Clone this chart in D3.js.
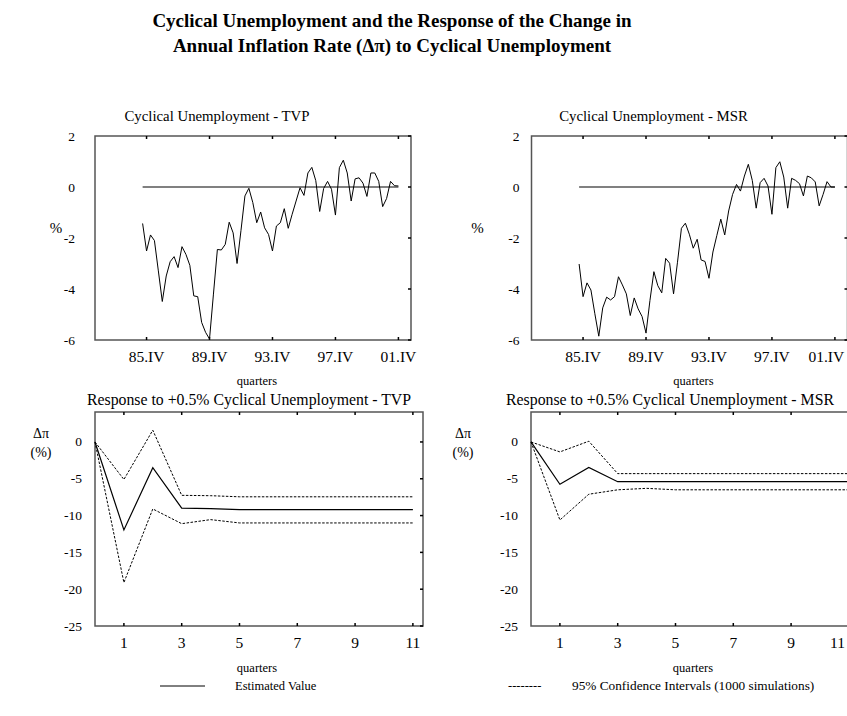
<!DOCTYPE html>
<html>
<head>
<meta charset="utf-8">
<script src="https://cdn.jsdelivr.net/npm/d3@7"></script>
<style>
  body { margin: 0; background: #fff; }
  text { font-family: "Liberation Serif", "Times New Roman", serif; fill: #000; }
</style>
</head>
<body>
<div id="container"></div>
<script>
// quarter index: 0 = 85.III ... 65 = 01.IV
var quarterTicks = [1, 17, 33, 49, 65];
var quarterLabels = ["85.IV", "89.IV", "93.IV", "97.IV", "01.IV"];

var cyclicalTVP = [
  -1.43, -2.51, -1.88, -2.10, -3.29, -4.49, -3.49, -2.93, -2.73, -3.16,
  -2.34, -2.64, -3.07, -4.27, -4.30, -5.31, -5.70, -5.96, -4.20, -2.45,
  -2.47, -2.25, -1.38, -1.80, -3.00, -1.70, -0.35, -0.05, -0.61, -1.40,
  -0.98, -1.60, -1.86, -2.51, -1.53, -1.40, -0.85, -1.62, -1.07, -0.55,
  -0.03, -0.33, 0.55, 0.77, 0.25, -0.96, -0.06, 0.22, -0.09, -1.10,
  0.76, 1.05, 0.55, -0.55, 0.32, 0.36, 0.15, -0.37, 0.55, 0.55,
  0.22, -0.77, -0.45, 0.22, 0.05, 0.04
];

var cyclicalMSR = [
  -3.02, -4.30, -3.76, -4.04, -4.97, -5.85, -4.74, -4.32, -4.43, -4.30,
  -3.52, -3.84, -4.19, -5.04, -4.35, -4.78, -5.08, -5.73, -4.45, -3.32,
  -3.87, -4.15, -2.80, -2.99, -4.19, -2.95, -1.62, -1.42, -1.85, -2.40,
  -2.05, -2.86, -2.92, -3.58, -2.55, -1.90, -1.26, -1.88, -0.94, -0.29,
  0.10, -0.16, 0.43, 0.89, 0.26, -0.83, 0.17, 0.34, 0.04, -1.07,
  0.76, 0.99, 0.39, -0.83, 0.34, 0.26, 0.13, -0.35, 0.43, 0.36,
  0.20, -0.74, -0.29, 0.21, 0.00, 0.00
];

var cyclicalTicks = [2, 0, -2, -4, -6];

// impulse responses, horizon 0..11 quarters
var horizon = [0, 1, 2, 3, 4, 5, 6, 7, 8, 9, 10, 11];
var respTVP      = [0, -11.95, -3.5, -9.0, -9.05, -9.2, -9.2, -9.2, -9.2, -9.2, -9.2, -9.2];
var respTVPUpper = [0, -5.1, 1.6, -7.25, -7.3, -7.45, -7.45, -7.45, -7.45, -7.45, -7.45, -7.45];
var respTVPLower = [0, -19.1, -9.1, -11.1, -10.55, -11.0, -11.0, -11.0, -11.0, -11.0, -11.0, -11.0];
var respMSR      = [0, -5.75, -3.45, -5.4, -5.4, -5.4, -5.4, -5.4, -5.4, -5.4, -5.4, -5.4];
var respMSRUpper = [0, -1.35, 0.1, -4.3, -4.3, -4.3, -4.3, -4.3, -4.3, -4.3, -4.3, -4.3];
var respMSRLower = [0, -10.6, -7.1, -6.5, -6.3, -6.5, -6.5, -6.5, -6.5, -6.5, -6.5, -6.5];
var horizonTicks = [1, 3, 5, 7, 9, 11];
var responseTicks = [0, -5, -10, -15, -20, -25];

var W = 847, H = 716;

var svg = d3.select("div#container")
  .append("svg")
  .attr("width", W)
  .attr("height", H);

// title
var title = svg.append("text")
  .attr("text-anchor", "middle")
  .attr("font-size", 19)
  .attr("font-weight", "bold");
title.append("tspan").attr("x", 392).attr("y", 27)
  .text("Cyclical Unemployment and the Response of the Change in");
title.append("tspan").attr("x", 392).attr("y", 52)
  .text("Annual  Inflation Rate  (\u0394\u03c0) to Cyclical Unemployment");

// keep a text inside the window at the right edge
function fitRight(sel, left) {
  sel.each(function() {
    var b = this.getBBox();
    var over = left + b.x + b.width - (W - 2);
    if (over > 0) d3.select(this).attr("x", +d3.select(this).attr("x") - over);
  });
}

function panel(p) {
  var g = svg.append("g").attr("transform", "translate(" + p.left + "," + p.top + ")");
  var x = d3.scaleLinear().domain(p.xDomain).range([0, p.w]);
  var y = d3.scaleLinear().domain(p.yDomain).range([p.h, 0]);

  // frame
  g.append("rect")
    .attr("width", p.w).attr("height", p.h)
    .attr("fill", "none").attr("stroke", "#555").attr("stroke-width", 1.5);

  // inward ticks on all sides
  var t = 3;
  p.xTicks.forEach(function(v) {
    g.append("line").attr("x1", x(v)).attr("x2", x(v)).attr("y1", 0).attr("y2", t)
      .attr("stroke", "#000").attr("stroke-width", 1.5);
    g.append("line").attr("x1", x(v)).attr("x2", x(v)).attr("y1", p.h).attr("y2", p.h - t)
      .attr("stroke", "#000").attr("stroke-width", 1.5);
  });
  p.yTicks.forEach(function(v) {
    g.append("line").attr("x1", p.w).attr("x2", p.w - t).attr("y1", y(v)).attr("y2", y(v))
      .attr("stroke", "#000").attr("stroke-width", 1.5);
  });

  // tick labels
  var xl = g.selectAll(".xl").data(p.xTicks).enter().append("text")
    .attr("x", function(d) { return x(d); })
    .attr("y", p.h + p.xLabelGap)
    .attr("text-anchor", "middle")
    .attr("font-size", 15.5)
    .text(function(d, i) { return p.xLabels ? p.xLabels[i] : d; });
  fitRight(xl, p.left);

  g.selectAll(".yl").data(p.yTicks).enter().append("text")
    .attr("x", -p.yLabelGap)
    .attr("y", function(d) { return y(d) + 4.5; })
    .attr("text-anchor", "end")
    .attr("font-size", 13.5)
    .text(function(d) { return d; });

  // panel title and axis caption
  var tt = g.append("text").attr("x", p.titleX).attr("y", p.titleY)
    .attr("text-anchor", "middle").attr("font-size", p.titleSize).text(p.title);
  fitRight(tt, p.left);
  g.append("text").attr("x", p.captionX).attr("y", p.h + p.captionGap)
    .attr("text-anchor", "middle").attr("font-size", 12.5).text("quarters");

  return { g: g, x: x, y: y };
}

function drawLine(pp, xs, ys, dashed, color, width) {
  var line = d3.line()
    .x(function(d) { return pp.x(d[0]); })
    .y(function(d) { return pp.y(d[1]); });
  pp.g.append("path")
    .datum(d3.zip(xs, ys))
    .attr("d", line)
    .attr("fill", "none")
    .attr("stroke", color || "#000")
    .attr("stroke-width", width || 1)
    .attr("stroke-dasharray", dashed ? "2.5,1.5" : null);
}

var qIndex = d3.range(cyclicalTVP.length);

function topPanel(left, name, values, yGap, pctX) {
  var pp = panel({
    left: left, top: 136, w: 316, h: 204,
    xDomain: [-12.1, 68.2], yDomain: [-6, 2],
    xTicks: quarterTicks, xLabels: quarterLabels, yTicks: cyclicalTicks,
    xLabelGap: 22, yLabelGap: yGap,
    title: "Cyclical Unemployment - " + name, titleX: 122, titleY: -15, titleSize: 14.8,
    captionX: 162, captionGap: 45
  });
  drawLine(pp, [0, 65], [0, 0], false, "#808080", 2);
  drawLine(pp, qIndex, values, false, "#000", 1);
  pp.g.append("text").attr("x", pctX).attr("y", pp.y(-1.8))
    .attr("font-family", "Liberation Sans, Arial, sans-serif")
    .attr("font-size", 15).attr("text-anchor", "middle").text("%");
}

topPanel(95, "TVP", cyclicalTVP, 20, -39);
topPanel(531.5, "MSR", cyclicalMSR, 12, -54);

function bottomPanel(left, name, mid, up, lo, yGap, lblX, titleX) {
  var pp = panel({
    left: left, top: 412, w: 328, h: 214,
    xDomain: [0, 11.35], yDomain: [-25, 4.07],
    xTicks: horizonTicks, yTicks: responseTicks,
    xLabelGap: 22, yLabelGap: yGap,
    title: "Response to +0.5% Cyclical Unemployment - " + name, titleX: titleX, titleY: -7, titleSize: 15.8,
    captionX: 162, captionGap: 46
  });
  drawLine(pp, horizon, up, true);
  drawLine(pp, horizon, lo, true);
  drawLine(pp, horizon, mid, false, "#000", 1.2);
  var lab = pp.g.append("text").attr("text-anchor", "middle").attr("font-size", 14);
  lab.append("tspan").attr("x", lblX).attr("y", pp.y(0.5)).text("\u0394\u03c0");
  lab.append("tspan").attr("x", lblX).attr("y", pp.y(-2.1)).text("(%)");
}

bottomPanel(95, "TVP", respTVP, respTVPUpper, respTVPLower, 13, -54, 154);
bottomPanel(531, "MSR", respMSR, respMSRUpper, respMSRLower, 13, -68, 139);

// legend
var leg = svg.append("g");
leg.append("line").attr("x1", 160).attr("x2", 205).attr("y1", 686).attr("y2", 686)
  .attr("stroke", "#000").attr("stroke-width", 1);
leg.append("text").attr("x", 235).attr("y", 690).attr("font-size", 12.5).text("Estimated Value");
leg.append("text").attr("x", 508).attr("y", 690).attr("font-size", 12.5).text("--------");
leg.append("text").attr("x", 572).attr("y", 690).attr("font-size", 13.3)
  .text("95% Confidence Intervals  (1000 simulations)");
</script>
</body>
</html>
